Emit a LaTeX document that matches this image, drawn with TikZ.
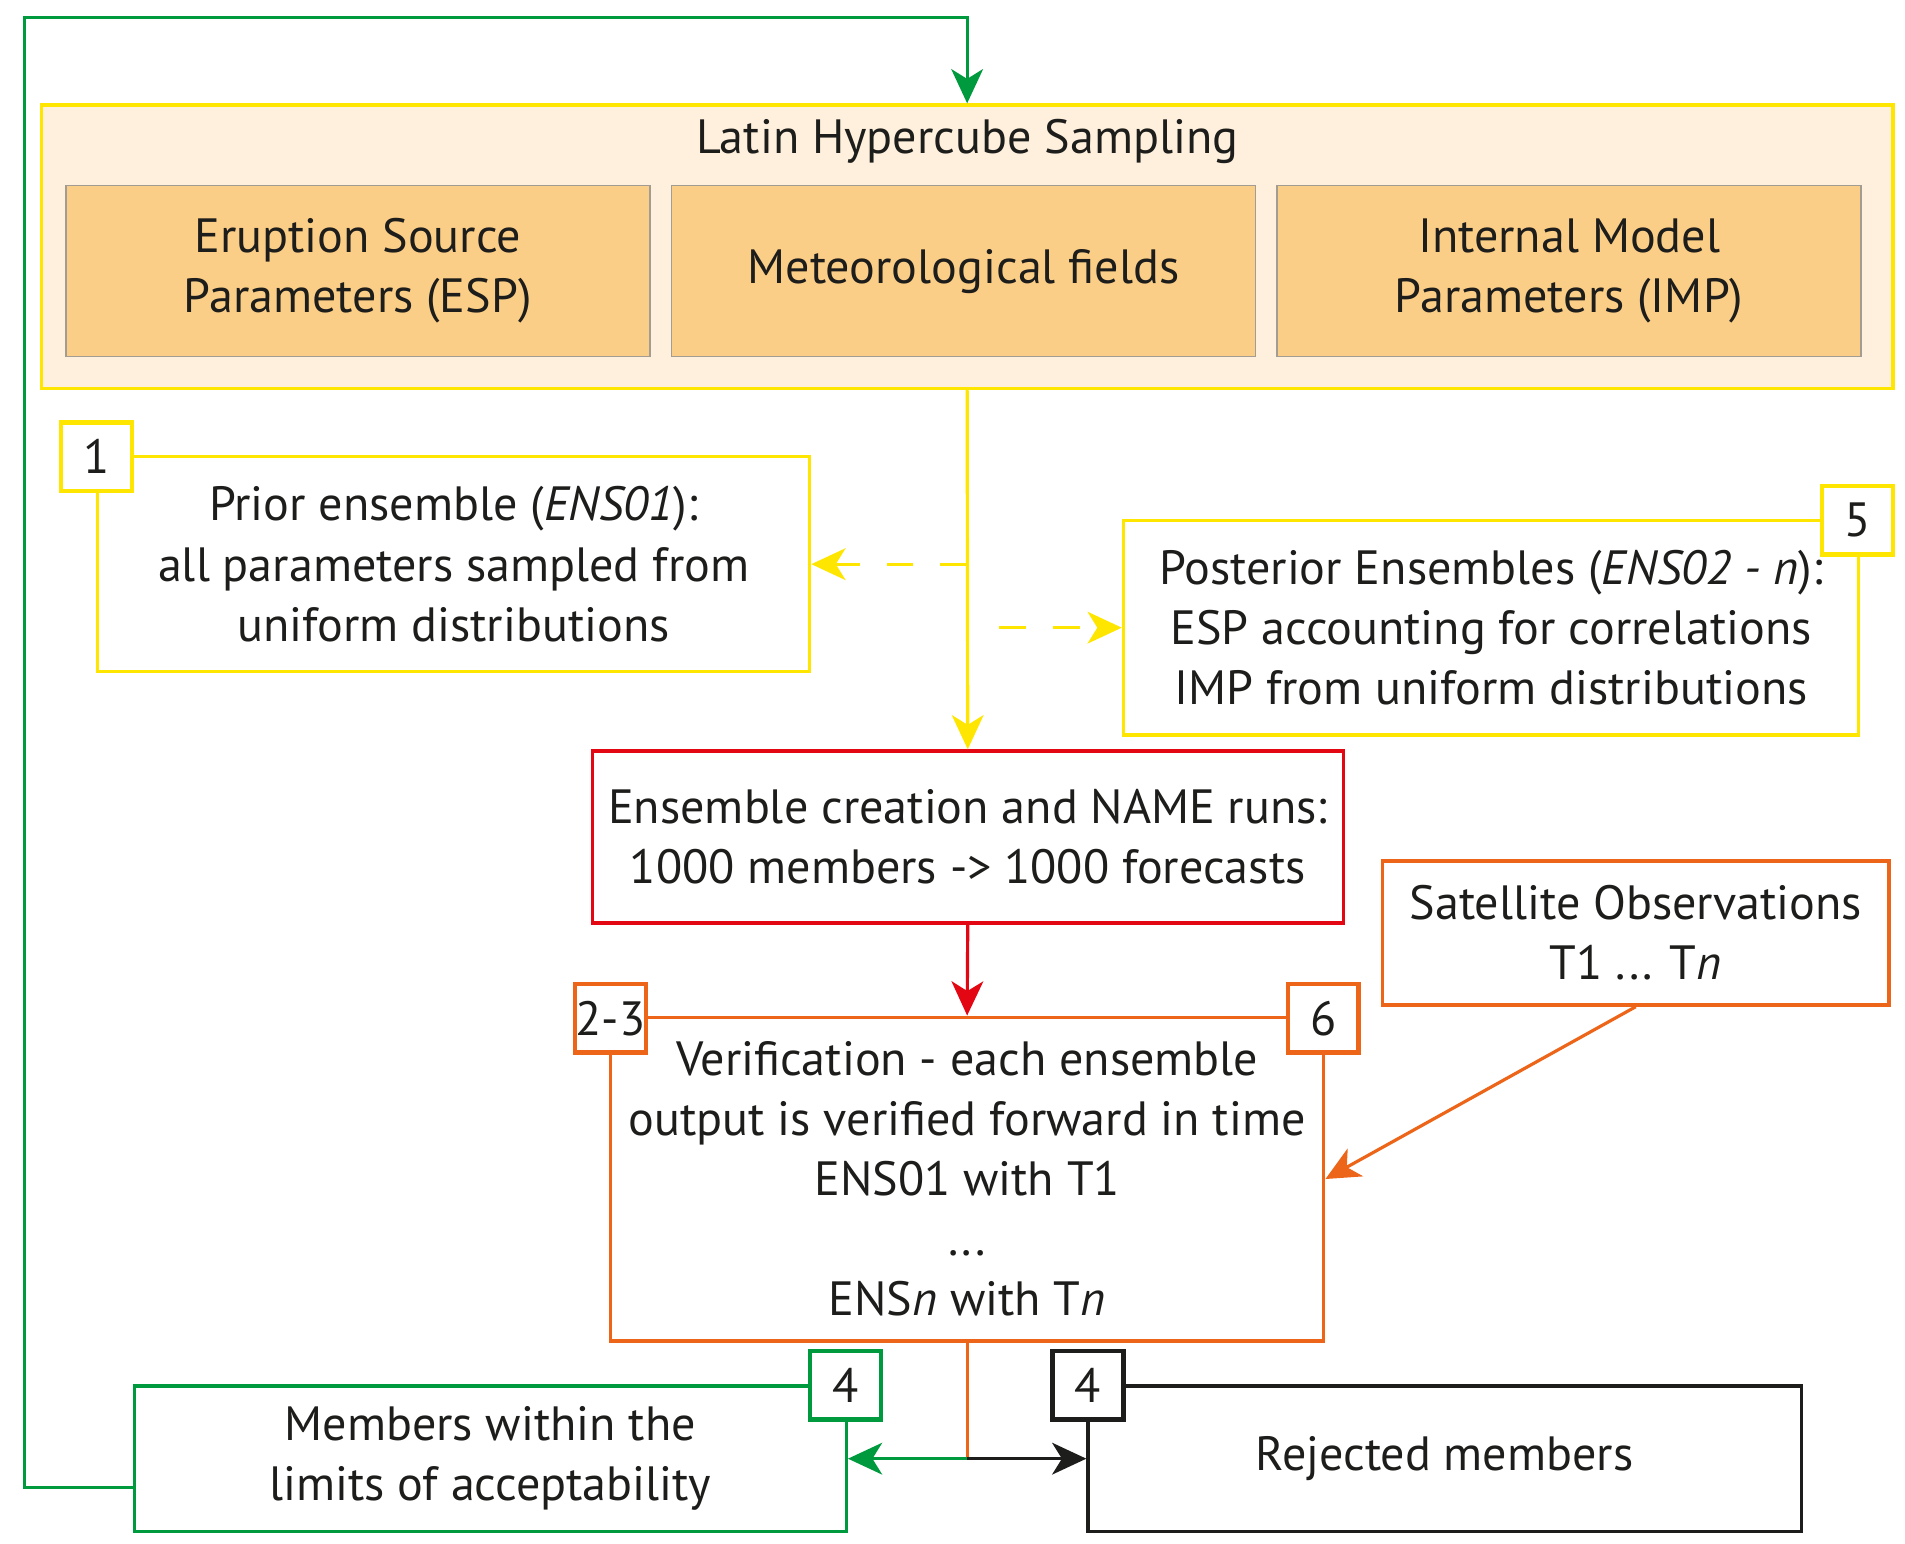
\documentclass[tikz,border=0pt]{standalone}
\usepackage{fontspec}
\setmainfont{PT Sans}
\usetikzlibrary{arrows.meta,calc}
\definecolor{cyel}{HTML}{FFE600}
\definecolor{ccream}{HTML}{FEF0DD}
\definecolor{cinner}{HTML}{FBCE88}
\definecolor{cgray}{HTML}{A39C93}
\definecolor{cred}{HTML}{E30613}
\definecolor{corange}{HTML}{EC6519}
\definecolor{cgreen}{HTML}{009A3E}
\definecolor{cblack}{HTML}{1D1D1B}
\tikzset{
  box/.style={draw, line width=1.4pt, inner sep=0pt, align=center, text=cblack},
  innerbox/.style={draw=cgray, fill=cinner, line width=0.7pt, inner sep=0pt, align=center, text=cblack, minimum width=239pt, minimum height=70pt},
  tagbox/.style={draw, fill=white, line width=1.8pt, inner sep=0pt, text=cblack, minimum width=29pt, minimum height=28pt},
  txt/.style={align=center, text=cblack, inner sep=0pt},
  conn/.style={line width=1.3pt},
  tip/.style={-{Stealth[length=14pt,width=13pt,inset=4pt]}},
}
\begin{document}
\begin{tikzpicture}[x=0.5pt,y=-0.5pt,font=\fontsize{19.7}{24.6}\selectfont]
\useasboundingbox (0,0) rectangle (1560,1264);
% Latin Hypercube Sampling
\node[box, draw=cyel, fill=ccream, minimum width=758pt, minimum height=116pt] (lhs) at (792,202) {};
\node[txt] (lhstitle) at (792,116) {Latin Hypercube Sampling};
\node[innerbox] (esp) at (293,222) {Eruption Source\\Parameters (ESP)};
\node[innerbox] (met) at (789,222) {Meteorological fields};
\node[innerbox] (imp) at (1285,222) {Internal Model\\Parameters (IMP)};
% prior / posterior
\node[box, draw=cyel, minimum width=291.5pt, minimum height=88pt] (prior) at (371.5,462) {Prior ensemble (\textit{ENS01}):\\all parameters sampled from\\uniform distributions};
\node[box, draw=cyel, minimum width=301pt, minimum height=88pt] (post) at (1221,514) {Posterior Ensembles (\textit{ENS02 - n}):\\ESP accounting for correlations\\IMP from uniform distributions};
% ensemble creation
\node[box, draw=cred, minimum width=307.5pt, minimum height=70.5pt] (red) at (792.5,685.5) {Ensemble creation and NAME runs:\\1000 members -> 1000 forecasts};
% satellite
\node[box, draw=corange, minimum width=207.5pt, minimum height=59pt] (sat) at (1339.5,764) {Satellite Observations\\T1 ... T\textit{n}};
% verification
\node[box, draw=corange, minimum width=292pt, minimum height=132.5pt] (verif) at (792,965.5) {Verification - each ensemble\\output is verified forward in time\\ENS01 with T1\\...\\ENS\textit{n} with T\textit{n}};
% outcomes
\node[box, draw=cgreen, minimum width=291.5pt, minimum height=59.5pt] (acc) at (401.5,1194.5) {Members within the\\limits of acceptability};
\node[box, draw=cblack, minimum width=292pt, minimum height=59.5pt] (rej) at (1183,1194.5) {Rejected members};
% tags
\node[tagbox, draw=cyel] (tag1) at (79,374) {1};
\node[tagbox, draw=cyel] (tag5) at (1521,426) {5};
\node[tagbox, draw=corange] (tag23) at (500,834) {2-3};
\node[tagbox, draw=corange] (tag6) at (1083.5,834) {6};
\node[tagbox, draw=cgreen] (tag4a) at (692.5,1134.5) {4};
\node[tagbox, draw=cblack] (tag4b) at (891,1134.5) {4};
% connectors
\coordinate (loopc) at (20,14);
\coordinate (rstart) at (818,514);
\coordinate (split) at (792,1194.5);
\draw[conn, cgreen, tip] ([yshift=-11.75pt]acc.west) -| (loopc) -| (lhs.north);
\draw[conn, cyel, tip] (lhs.south) -- (red.north);
\draw[conn, cyel, tip, dash pattern=on 11pt off 11pt] (lhs.south |- prior.east) -- (prior.east);
\draw[conn, cyel, tip, dash pattern=on 11pt off 11pt] (rstart) -- (post.west);
\draw[conn, cred, tip] (red.south) -- (verif.north);
\draw[conn, corange, tip] (sat.south) -- (verif.east);
\draw[conn, corange] (verif.south) -- (split);
\draw[conn, cgreen, tip] (split) -- (acc.east);
\draw[conn, cblack, tip] (split) -- (rej.west);
\end{tikzpicture}
\end{document}
